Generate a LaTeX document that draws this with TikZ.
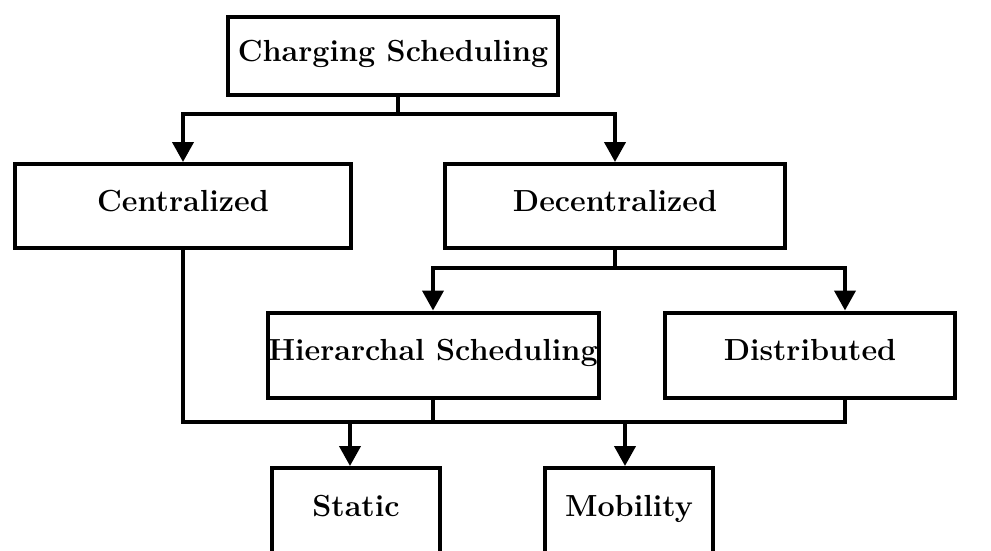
\documentclass[tikz,border=0pt]{standalone}
\usetikzlibrary{arrows.meta}
\begin{document}
\begin{tikzpicture}[x=1pt,y=-1pt,
  box/.style={draw,line width=4pt,rectangle,inner sep=0pt,
    font=\fontsize{30.5}{34}\selectfont\bfseries,text height=20pt,text depth=9pt},
  conn/.style={line width=4pt},
  arr/.style={conn,-{Triangle[length=20pt,width=21pt]}}]
\useasboundingbox (0,0) rectangle (991,550);
\node[box,minimum width=330pt,minimum height=78pt] (top) at (393,56) {Charging Scheduling};
\node[box,minimum width=336pt,minimum height=84pt] (cen) at (183,206) {Centralized};
\node[box,minimum width=340pt,minimum height=84pt] (dec) at (615,206) {Decentralized};
\node[box,minimum width=331pt,minimum height=85pt] (hier) at (433,355) {Hierarchal Scheduling};
\node[box,minimum width=290pt,minimum height=85pt] (dist) at (810,355) {Distributed};
\node[box,minimum width=168pt,minimum height=86pt] (sta) at (356,511) {Static};
\node[box,minimum width=168pt,minimum height=86pt] (mob) at (629,511) {Mobility};
\coordinate (j1) at (398,114);
\coordinate (j2) at (615,268);
\coordinate (dx) at (845,0);
\coordinate (sx) at (350,0);
\coordinate (mx) at (625,0);
\coordinate (bl) at (183,422);
\coordinate (br) at (845,422);
\draw[conn] (top.south -| j1) -- (j1);
\draw[arr] (j1) -| (cen.north);
\draw[arr] (j1) -| (dec.north);
\draw[conn] (dec.south) -- (j2);
\draw[arr] (j2) -| (hier.north);
\draw[arr] (j2) -| (dist.north -| dx);
\draw[conn] (cen.south) -- (bl) -- (br) -- (dist.south -| dx);
\draw[conn] (hier.south) -- (hier.south |- bl);
\draw[arr] (sx |- bl) -- (sta.north -| sx);
\draw[arr] (mx |- bl) -- (mob.north -| mx);
\end{tikzpicture}
\end{document}
